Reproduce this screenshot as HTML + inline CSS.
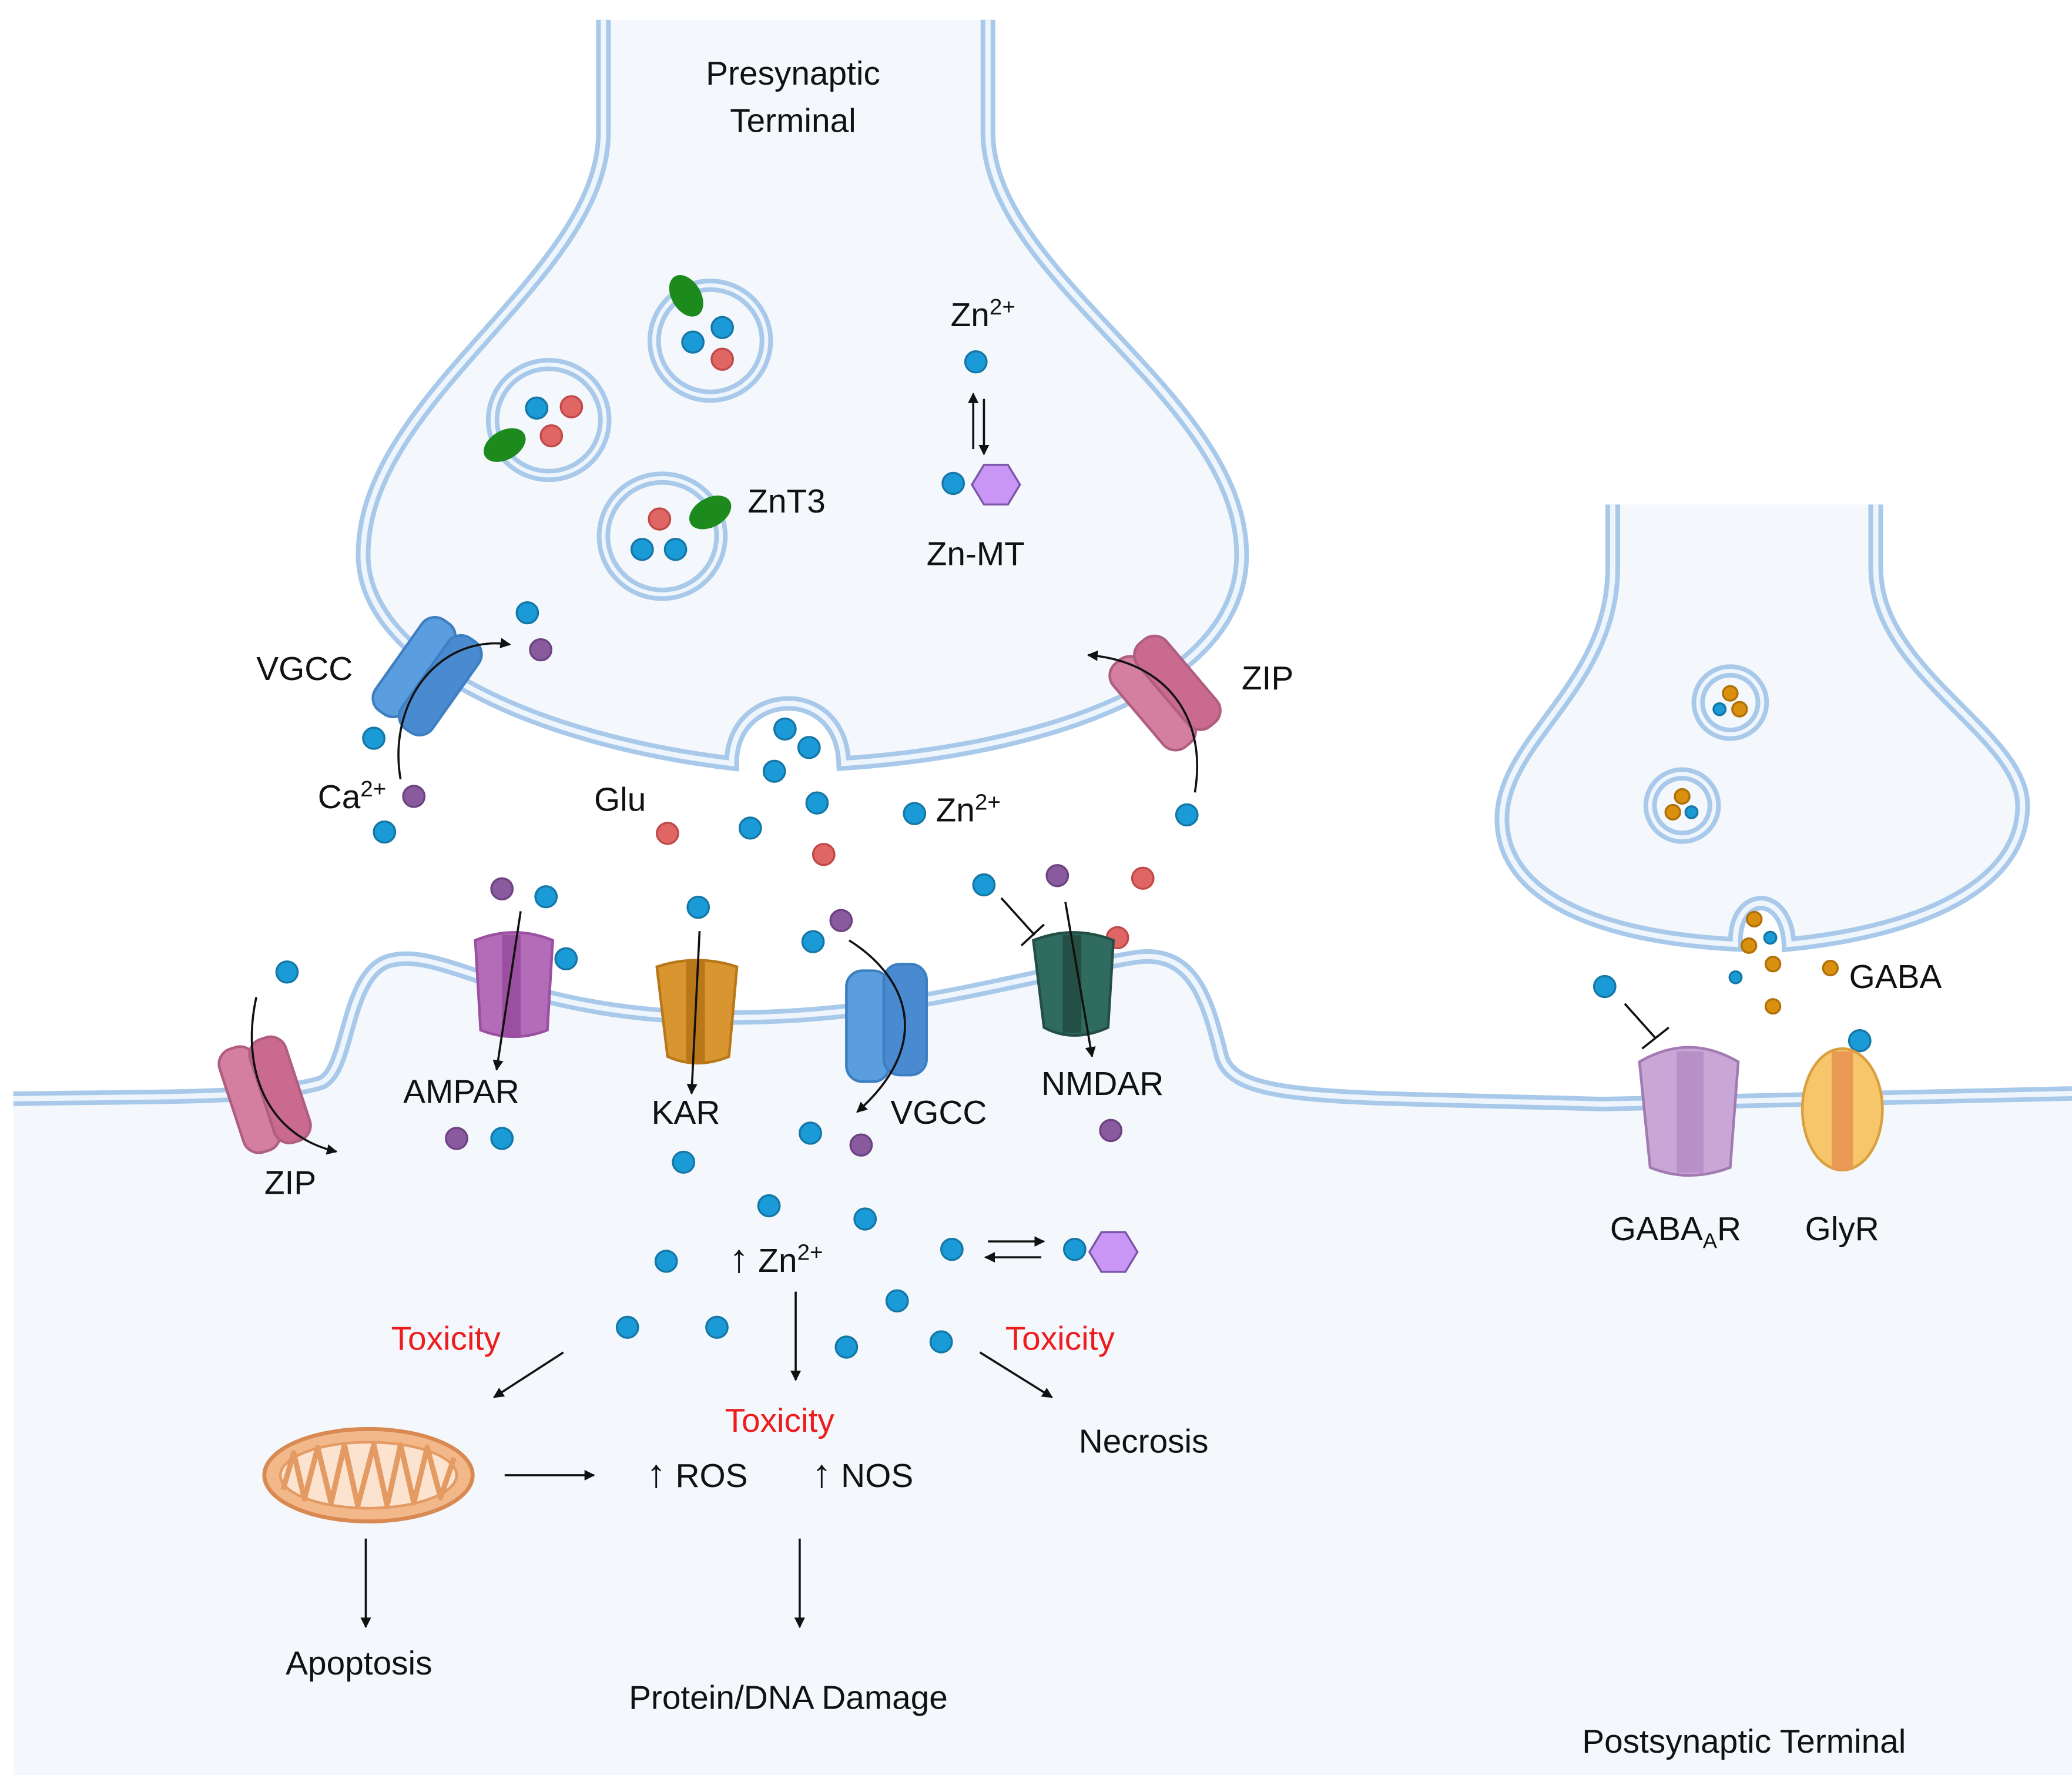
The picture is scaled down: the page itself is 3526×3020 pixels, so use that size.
<!DOCTYPE html>
<html><head><meta charset="utf-8"><style>
html,body{margin:0;padding:0;background:#fff}
svg{display:block}
text{font-family:"Liberation Sans","DejaVu Sans",sans-serif;fill:#111}
</style></head><body>
<svg width="3526" height="3020" viewBox="0 0 1552 1344" preserveAspectRatio="none" xmlns="http://www.w3.org/2000/svg">
<defs>
<marker id="ar" viewBox="0 0 10 10" refX="9" refY="5" markerWidth="5" markerHeight="5" orient="auto"><path d="M0,0 L10,5 L0,10 z" fill="#111"/></marker>
</defs>
<rect width="1552" height="1344" fill="#fff"/>
<path d="M10,832 C120,830 200,832 240,820 C262,812 258,740 290,728 C330,715 380,765 520,770 C660,775 760,740 850,725 C895,718 905,760 915,800 C925,835 1000,830 1200,836 L1552,828 L1552,1344 L10,1344 Z" fill="#f4f8fc"/>
<path d="M10,832 C120,830 200,832 240,820 C262,812 258,740 290,728 C330,715 380,765 520,770 C660,775 760,740 850,725 C895,718 905,760 915,800 C925,835 1000,830 1200,836 L1552,828" fill="none" stroke="#a9c9ea" stroke-width="11"/>
<path d="M10,832 C120,830 200,832 240,820 C262,812 258,740 290,728 C330,715 380,765 520,770 C660,775 760,740 850,725 C895,718 905,760 915,800 C925,835 1000,830 1200,836 L1552,828" fill="none" stroke="#eef5fc" stroke-width="4"/>
<path d="M452,15 L452,100 C452,210 272,300 272,420 C272,500 400,560 548,578 C548,520 630,515 632,578 C780,568 930,520 930,420 C930,300 740,210 740,100 L740,15" fill="#f4f8fc" stroke="#a9c9ea" stroke-width="11"/>
<path d="M452,15 L452,100 C452,210 272,300 272,420 C272,500 400,560 548,578 C548,520 630,515 632,578 C780,568 930,520 930,420 C930,300 740,210 740,100 L740,15" fill="none" stroke="#eef5fc" stroke-width="4"/>
<path d="M1208,382 L1208,430 C1208,520 1125,560 1125,620 C1125,680 1200,710 1300,715 C1298,675 1338,672 1340,715 C1440,705 1515,670 1515,610 C1515,555 1405,510 1405,430 L1405,382" fill="#f4f8fc" stroke="#a9c9ea" stroke-width="11"/>
<path d="M1208,382 L1208,430 C1208,520 1125,560 1125,620 C1125,680 1200,710 1300,715 C1298,675 1338,672 1340,715 C1440,705 1515,670 1515,610 C1515,555 1405,510 1405,430 L1405,382" fill="none" stroke="#eef5fc" stroke-width="4"/>
<g fill="#f4f8fc" stroke="#a9c9ea" stroke-width="10">
<circle cx="532" cy="258" r="42"/><circle cx="411" cy="318" r="42"/><circle cx="496" cy="406" r="44"/>
<circle cx="1296" cy="532" r="24"/><circle cx="1260" cy="610" r="24"/>
</g>
<g fill="none" stroke="#eef5fc" stroke-width="3">
<circle cx="532" cy="258" r="42"/><circle cx="411" cy="318" r="42"/><circle cx="496" cy="406" r="44"/>
<circle cx="1296" cy="532" r="24"/><circle cx="1260" cy="610" r="24"/>
</g>
<g fill="#1d8a1d">
<ellipse cx="514" cy="224" rx="11" ry="17" transform="rotate(-30 514 224)"/>
<ellipse cx="378" cy="337" rx="11" ry="17" transform="rotate(60 378 337)"/>
<ellipse cx="532" cy="388" rx="11" ry="17" transform="rotate(60 532 388)"/>
</g>
<g stroke-width="1.5">
<g fill="#1a9ad6" stroke="#1577a6">
<circle cx="541" cy="248" r="8"/><circle cx="519" cy="259" r="8"/>
<circle cx="402" cy="309" r="8"/>
<circle cx="481" cy="416" r="8"/><circle cx="506" cy="416" r="8"/>
<circle cx="731" cy="274" r="8"/><circle cx="714" cy="366" r="8"/>
<circle cx="395" cy="464" r="8"/><circle cx="280" cy="559" r="8"/><circle cx="288" cy="630" r="8"/>
<circle cx="588" cy="552" r="8"/><circle cx="606" cy="566" r="8"/><circle cx="580" cy="584" r="8"/>
<circle cx="612" cy="608" r="8"/><circle cx="562" cy="627" r="8"/><circle cx="685" cy="616" r="8"/>
<circle cx="889" cy="617" r="8"/><circle cx="737" cy="670" r="8"/>
<circle cx="409" cy="679" r="8"/><circle cx="424" cy="726" r="8"/><circle cx="523" cy="687" r="8"/>
<circle cx="609" cy="713" r="8"/><circle cx="215" cy="736" r="8"/>
<circle cx="376" cy="862" r="8"/><circle cx="607" cy="858" r="8"/><circle cx="512" cy="880" r="8"/>
<circle cx="576" cy="913" r="8"/><circle cx="648" cy="923" r="8"/><circle cx="499" cy="955" r="8"/>
<circle cx="713" cy="946" r="8"/><circle cx="805" cy="946" r="8"/>
<circle cx="470" cy="1005" r="8"/><circle cx="537" cy="1005" r="8"/><circle cx="672" cy="985" r="8"/>
<circle cx="634" cy="1020" r="8"/><circle cx="705" cy="1016" r="8"/>
<circle cx="1202" cy="747" r="8"/><circle cx="1393" cy="788" r="8"/>
<circle cx="1288" cy="537" r="4.5"/><circle cx="1267" cy="615" r="4.5"/><circle cx="1326" cy="710" r="4.5"/><circle cx="1300" cy="740" r="4.5"/>
</g>
<g fill="#e06666" stroke="#c04848">
<circle cx="541" cy="272" r="8"/><circle cx="428" cy="308" r="8"/><circle cx="413" cy="330" r="8"/>
<circle cx="494" cy="393" r="8"/><circle cx="500" cy="631" r="8"/><circle cx="617" cy="647" r="8"/>
<circle cx="856" cy="665" r="8"/><circle cx="837" cy="710" r="8"/>
</g>
<g fill="#8a5a9e" stroke="#6c4380">
<circle cx="405" cy="492" r="8"/><circle cx="310" cy="603" r="8"/><circle cx="376" cy="673" r="8"/>
<circle cx="630" cy="697" r="8"/><circle cx="792" cy="663" r="8"/><circle cx="342" cy="862" r="8"/>
<circle cx="645" cy="867" r="8"/><circle cx="832" cy="856" r="8"/>
</g>
<g fill="#d9900e" stroke="#b07008">
<circle cx="1296" cy="525" r="5.5"/><circle cx="1303" cy="537" r="5.5"/>
<circle cx="1260" cy="603" r="5.5"/><circle cx="1253" cy="615" r="5.5"/>
<circle cx="1314" cy="696" r="5.5"/><circle cx="1310" cy="716" r="5.5"/><circle cx="1328" cy="730" r="5.5"/>
<circle cx="1371" cy="733" r="5.5"/><circle cx="1328" cy="762" r="5.5"/>
</g>
</g>
<polygon points="728,367 737,352 755,352 764,367 755,382 737,382" fill="#c996f5" stroke="#7a55a8" stroke-width="1.5"/>
<polygon points="816,948 825,933 843,933 852,948 843,963 825,963" fill="#c996f5" stroke="#7a55a8" stroke-width="1.5"/>
<g transform="rotate(35 320 512)">
<rect x="294" y="470" width="28" height="84" rx="12" fill="#5b9ee0" stroke="#3d7fc0" stroke-width="2"/>
<rect x="318" y="470" width="28" height="84" rx="12" fill="#4a8ad0" stroke="#3d7fc0" stroke-width="2"/>
</g>
<g transform="rotate(-40 872 524)">
<rect x="846" y="484" width="28" height="82" rx="12" fill="#d57fa0" stroke="#b05e80" stroke-width="2"/>
<rect x="870" y="484" width="28" height="82" rx="12" fill="#c96a8e" stroke="#b05e80" stroke-width="2"/>
</g>
<g transform="rotate(-18 198 828)">
<rect x="172" y="788" width="28" height="82" rx="12" fill="#d57fa0" stroke="#b05e80" stroke-width="2"/>
<rect x="196" y="788" width="28" height="82" rx="12" fill="#c96a8e" stroke="#b05e80" stroke-width="2"/>
</g>
<path d="M356,712 Q385,700 414,712 L410,780 Q385,790 360,780 Z" fill="#b36cb8" stroke="#9a4fa0" stroke-width="2"/>
<rect x="376" y="708" width="14" height="76" fill="#9a4fa0"/>
<path d="M492,732 Q522,722 552,732 L546,800 Q522,810 500,800 Z" fill="#d99530" stroke="#b8781a" stroke-width="2"/>
<rect x="514" y="728" width="14" height="76" fill="#b8781a"/>
<rect x="634" y="735" width="32" height="84" rx="12" fill="#5b9ee0" stroke="#3d7fc0" stroke-width="2"/>
<rect x="662" y="730" width="32" height="84" rx="12" fill="#4a8ad0" stroke="#3d7fc0" stroke-width="2"/>
<path d="M774,712 Q804,700 834,712 L830,778 Q804,790 782,778 Z" fill="#2f6b5e" stroke="#234f45" stroke-width="2"/>
<rect x="796" y="708" width="14" height="74" fill="#234f45"/>
<path d="M1228,804 Q1265,782 1302,804 L1296,884 Q1265,896 1236,884 Z" fill="#c9a6d6" stroke="#a07ab0" stroke-width="2"/>
<rect x="1256" y="796" width="20" height="92" fill="#b890c8"/>
<ellipse cx="1380" cy="840" rx="30" ry="46" fill="#f7c66a" stroke="#d9a040" stroke-width="2"/>
<rect x="1372" y="796" width="16" height="90" fill="#eb9a55"/>
<g fill="none" stroke="#111" stroke-width="1.6">
<path d="M300,590 C290,530 330,480 382,488" marker-end="url(#ar)"/>
<path d="M895,600 C905,540 870,500 815,496" marker-end="url(#ar)"/>
<path d="M192,755 C180,810 200,860 252,872" marker-end="url(#ar)"/>
<line x1="390" y1="690" x2="372" y2="810" marker-end="url(#ar)"/>
<line x1="524" y1="705" x2="518" y2="828" marker-end="url(#ar)"/>
<path d="M636,712 C680,740 700,790 642,842" marker-end="url(#ar)"/>
<line x1="798" y1="683" x2="818" y2="800" marker-end="url(#ar)"/>
<line x1="729" y1="340" x2="729" y2="298" marker-end="url(#ar)"/>
<line x1="737" y1="302" x2="737" y2="344" marker-end="url(#ar)"/>
<line x1="740" y1="940" x2="782" y2="940" marker-end="url(#ar)"/>
<line x1="780" y1="952" x2="738" y2="952" marker-end="url(#ar)"/>
<line x1="596" y1="978" x2="596" y2="1045" marker-end="url(#ar)"/>
<line x1="422" y1="1024" x2="370" y2="1058" marker-end="url(#ar)"/>
<line x1="734" y1="1024" x2="788" y2="1058" marker-end="url(#ar)"/>
<line x1="378" y1="1117" x2="445" y2="1117" marker-end="url(#ar)"/>
<line x1="274" y1="1165" x2="274" y2="1232" marker-end="url(#ar)"/>
<line x1="599" y1="1165" x2="599" y2="1232" marker-end="url(#ar)"/>
<line x1="750" y1="680" x2="775" y2="708"/><line x1="765" y1="716" x2="782" y2="700"/>
<line x1="1217" y1="760" x2="1240" y2="786"/><line x1="1230" y1="794" x2="1250" y2="778"/>
</g>
<g font-size="25">
<text x="594" y="64" text-anchor="middle">Presynaptic</text>
<text x="594" y="100" text-anchor="middle">Terminal</text>
<text x="712" y="247">Zn<tspan font-size="17" dy="-9">2+</tspan></text>
<text x="560" y="388">ZnT3</text>
<text x="694" y="428">Zn-MT</text>
<text x="192" y="515">VGCC</text>
<text x="930" y="522">ZIP</text>
<text x="238" y="612">Ca<tspan font-size="17" dy="-9">2+</tspan></text>
<text x="445" y="614">Glu</text>
<text x="701" y="622">Zn<tspan font-size="17" dy="-9">2+</tspan></text>
<text x="302" y="835">AMPAR</text>
<text x="488" y="851">KAR</text>
<text x="667" y="851">VGCC</text>
<text x="780" y="829">NMDAR</text>
<text x="198" y="904">ZIP</text>
<text x="1385" y="748">GABA</text>
<text x="1206" y="939">GABA<tspan font-size="16" dy="6">A</tspan><tspan dy="-6">R</tspan></text>
<text x="1352" y="939">GlyR</text>
<text x="546" y="963"><tspan font-size="30">↑</tspan> Zn<tspan font-size="17" dy="-9">2+</tspan></text>
<text x="293" y="1022" style="fill:#ee1c1c">Toxicity</text>
<text x="753" y="1022" style="fill:#ee1c1c">Toxicity</text>
<text x="543" y="1084" style="fill:#ee1c1c">Toxicity</text>
<text x="808" y="1100">Necrosis</text>
<text x="484" y="1126"><tspan font-size="30">↑</tspan> ROS</text>
<text x="608" y="1126"><tspan font-size="30">↑</tspan> NOS</text>
<text x="214" y="1268">Apoptosis</text>
<text x="471" y="1294">Protein/DNA Damage</text>
<text x="1185" y="1327">Postsynaptic Terminal</text>
</g>
<ellipse cx="276" cy="1117" rx="78" ry="35" fill="#f3b88a" stroke="#d98a52" stroke-width="3"/>
<ellipse cx="276" cy="1117" rx="66" ry="25" fill="#fbe3d0" stroke="#e39a63" stroke-width="2"/>
<path d="M212,1128 L220,1100 L228,1135 L238,1096 L248,1138 L258,1094 L268,1140 L280,1094 L290,1140 L300,1094 L310,1138 L320,1096 L330,1134 L340,1104" fill="none" stroke="#e39a63" stroke-width="4" stroke-linejoin="round"/>
</svg>
</body></html>
